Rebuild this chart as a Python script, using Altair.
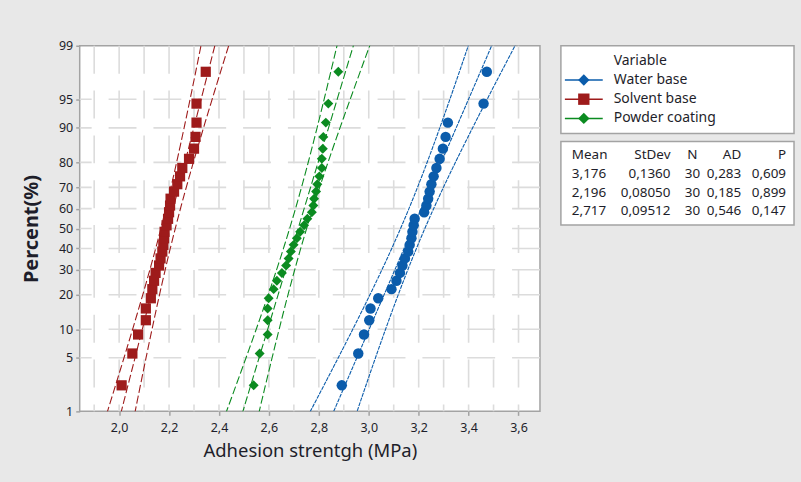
import altair as alt
import pandas as pd
from statistics import NormalDist

# ---------------- data ----------------
variables = ["Water base", "Solvent base", "Powder coating"]
colors = ["#0b5cab", "#9e1b1b", "#0b8b20"]
shapes = ["circle", "square", "diamond"]

water_base = [2.892, 2.958, 2.981, 3.002, 3.007, 3.038, 3.091, 3.111, 3.125, 3.135,
              3.145, 3.158, 3.164, 3.171, 3.175, 3.180, 3.184, 3.222, 3.231, 3.238,
              3.244, 3.251, 3.260, 3.271, 3.284, 3.297, 3.308, 3.317, 3.460, 3.473]
solvent_base = [2.010, 2.053, 2.076, 2.107, 2.107, 2.127, 2.133, 2.140, 2.146, 2.160,
                2.166, 2.173, 2.177, 2.180, 2.182, 2.190, 2.196, 2.200, 2.204, 2.206,
                2.220, 2.233, 2.244, 2.253, 2.280, 2.300, 2.306, 2.310, 2.310, 2.347]
powder_coating = [2.539, 2.563, 2.595, 2.595, 2.595, 2.599, 2.619, 2.632, 2.652, 2.669,
                  2.679, 2.688, 2.699, 2.712, 2.725, 2.741, 2.754, 2.772, 2.778, 2.781,
                  2.789, 2.794, 2.802, 2.812, 2.812, 2.816, 2.818, 2.828, 2.838, 2.878]

means = [3.176, 2.196, 2.717]
stdevs = [0.1360, 0.08050, 0.09512]
ns = [30, 30, 30]
mean_txt = ["3,176", "2,196", "2,717"]
stdev_txt = ["0,1360", "0,08050", "0,09512"]
n_txt = ["30", "30", "30"]
ad_txt = ["0,283", "0,185", "0,546"]
p_txt = ["0,609", "0,899", "0,147"]

pct_ticks = [1, 5, 10, 20, 30, 40, 50, 60, 70, 80, 90, 95, 99]
x_ticks = [2.0, 2.2, 2.4, 2.6, 2.8, 3.0, 3.2, 3.4, 3.6]
x_grid = [1.9, 2.0, 2.1, 2.2, 2.3, 2.4, 2.5, 2.6, 2.7, 2.8, 2.9, 3.0, 3.1, 3.2, 3.3, 3.4, 3.5, 3.6]

FONT = "Noto Sans"
TXT = "#1e1e2a"
GRID = "#dcdcdc"
BORDER = "#a3a3a3"

# ---------------- tables ----------------
series = {"Water base": water_base, "Solvent base": solvent_base, "Powder coating": powder_coating}
pts = pd.DataFrame([{"Variable": k, "value": v} for k, vals in series.items() for v in vals])
stats = pd.DataFrame({"Variable": variables, "mean": means, "sd": stdevs, "n": ns})

nd = NormalDist()
y_vals = [nd.inv_cdf(p / 100) for p in pct_ticks]
y_dom = [nd.inv_cdf(0.01), nd.inv_cdf(0.99)]
vgrid_df = pd.DataFrame({"gx": x_grid})
hgrid_df = pd.DataFrame({"gz": y_vals[1:-1]})

color_scale = alt.Scale(domain=variables, range=colors)
shape_scale = alt.Scale(domain=variables, range=shapes)
size_scale = alt.Scale(domain=variables, range=[110, 100, 260])

xs = alt.Scale(domain=[1.842, 3.686], nice=False, zero=False)
ys = alt.Scale(domain=y_dom, nice=False, zero=False)

x_axis = alt.Axis(
    values=x_ticks, tickCount=50, grid=False, labelOverlap=False,
    labelExpr="replace(format(datum.value, '.1f'), '.', ',')",
    title="Adhesion strentgh (MPa)",
    titleFontSize=18.5, titleFontWeight="normal", titlePadding=8,
    labelFontSize=12.5, labelPadding=6, tickSize=4,
)
y_axis = alt.Axis(
    values=y_vals, tickCount=50, labelOverlap=False, grid=False,
    labelExpr="format(cumulativeNormal(datum.value)*100, '.0f')",
    title="Percent(%)",
    titleFontSize=20, titleFontWeight="bold", titlePadding=17,
    labelFontSize=12.5, labelPadding=3, tickSize=4,
)

# grid as rules through the scales (these layers carry the axes)
vgrid = alt.Chart(vgrid_df).mark_rule(color=GRID, strokeWidth=1.6, strokeDash=[28, 17]).encode(
    x=alt.X("gx:Q", scale=xs, axis=x_axis),
)
hgrid = alt.Chart(hgrid_df).mark_rule(color=GRID, strokeWidth=1.6, strokeDash=[28, 17]).encode(
    y=alt.Y("gz:Q", scale=ys, axis=y_axis),
)

lines = alt.Chart(stats).transform_calculate(
    zs="sequence(-2.5, 2.55, 0.05)"
).transform_flatten(["zs"]).transform_calculate(
    fit="datum.mean + datum.zs*datum.sd",
    lo="datum.mean + datum.zs*datum.sd - 1.96*datum.sd*sqrt(1/datum.n + datum.zs*datum.zs/(2*datum.n))",
    hi="datum.mean + datum.zs*datum.sd + 1.96*datum.sd*sqrt(1/datum.n + datum.zs*datum.zs/(2*datum.n))",
).transform_fold(["lo", "fit", "hi"], as_=["line", "xv"]).mark_line(
    clip=True, strokeWidth=1.1
).encode(
    x=alt.X("xv:Q", scale=xs),
    y=alt.Y("zs:Q", scale=ys),
    color=alt.Color("Variable:N", scale=color_scale, legend=None),
    strokeDash=alt.StrokeDash("Variable:N", scale=alt.Scale(domain=variables, range=[[4, 1], [8, 3], [8, 3]]), legend=None),
    detail="line:N",
    order="zs:Q",
)

points = alt.Chart(pts).transform_window(
    rank="row_number()", sort=[alt.SortField("value", order="ascending")], groupby=["Variable"]
).transform_joinaggregate(
    n="count()", groupby=["Variable"]
).transform_calculate(
    z="quantileNormal((datum.rank - 0.3)/(datum.n + 0.4))"
).mark_point(filled=True, opacity=1).encode(
    x=alt.X("value:Q", scale=xs),
    y=alt.Y("z:Q", scale=ys),
    color=alt.Color("Variable:N", scale=color_scale, legend=None),
    shape=alt.Shape("Variable:N", scale=shape_scale, legend=None),
    size=alt.Size("Variable:N", scale=size_scale, legend=None),
)

main = alt.layer(vgrid, hgrid, lines, points).properties(width=462, height=367)

# ---------------- legend panel ----------------
leg_rows = ["Variable"] + variables
leg_df = pd.DataFrame({"label": leg_rows, "kind": ["head"] + ["item"] * len(variables)})
leg_y = alt.Y("label:N", scale=alt.Scale(type="point", domain=leg_rows, padding=0.78), axis=None)
lbase = alt.Chart(leg_df)
l_rule = lbase.transform_filter("datum.kind == 'item'").mark_rule(strokeWidth=1.5).encode(
    x=alt.value(4), x2=alt.value(42), y=leg_y,
    color=alt.Color("label:N", scale=color_scale, legend=None),
)
l_pt = lbase.transform_filter("datum.kind == 'item'").mark_point(filled=True, opacity=1, size=130).encode(
    x=alt.value(23), y=leg_y,
    color=alt.Color("label:N", scale=color_scale, legend=None),
    shape=alt.Shape("label:N", scale=alt.Scale(domain=variables, range=["diamond", "square", "diamond"]), legend=None),
)
l_txt = lbase.mark_text(align="left", baseline="middle", font=FONT, fontSize=14, color=TXT).encode(
    x=alt.value(53), y=leg_y, text="label:N",
)
legend_panel = alt.layer(l_rule, l_pt, l_txt).properties(width=234, height=88)

# ---------------- stats panel ----------------
rows = ["head"] + variables
cols = ["Mean", "StDev", "N", "AD", "P"]
col_vals = [mean_txt, stdev_txt, n_txt, ad_txt, p_txt]
cells = []
for c, vals in zip(cols, col_vals):
    cells.append({"row": "head", "col": c, "txt": c})
    for v, t in zip(variables, vals):
        cells.append({"row": v, "col": c, "txt": t})
cell_df = pd.DataFrame(cells)
col_layout = {"Mean": (11, "left"), "StDev": (110, "right"), "N": (132, "center"),
              "AD": (181, "right"), "P": (226, "right")}
st_y = alt.Y("row:N", scale=alt.Scale(type="point", domain=rows, padding=0.75), axis=None)
st_layers = []
for c in cols:
    xpos, al = col_layout[c]
    st_layers.append(
        alt.Chart(cell_df).transform_filter(alt.datum.col == c).mark_text(
            align=al, baseline="middle", font=FONT, fontSize=13.5, color=TXT
        ).encode(x=alt.value(xpos), y=st_y, text="txt:N")
    )
stats_panel = alt.layer(*st_layers).properties(width=234, height=84)

right = alt.vconcat(legend_panel, stats_panel, spacing=6).resolve_scale(
    y="independent", color="independent", shape="independent")

chart = alt.hconcat(main, right, spacing=21, bounds="flush").resolve_scale(
    x="independent", y="independent", color="independent", shape="independent",
    strokeDash="independent", size="independent"
).properties(
    padding={"left": 20, "top": 38, "right": 6, "bottom": 25},
    background="#e8e8e8",
).configure_view(
    stroke=BORDER, strokeWidth=1.5, fill="white"
).configure_axis(
    domain=False, grid=False,
    tickColor=BORDER, tickWidth=1.5,
    labelFont=FONT, titleFont=FONT, labelColor=TXT, titleColor=TXT,
)

chart.save("out.html", embed_options={"renderer": "svg", "actions": False})
